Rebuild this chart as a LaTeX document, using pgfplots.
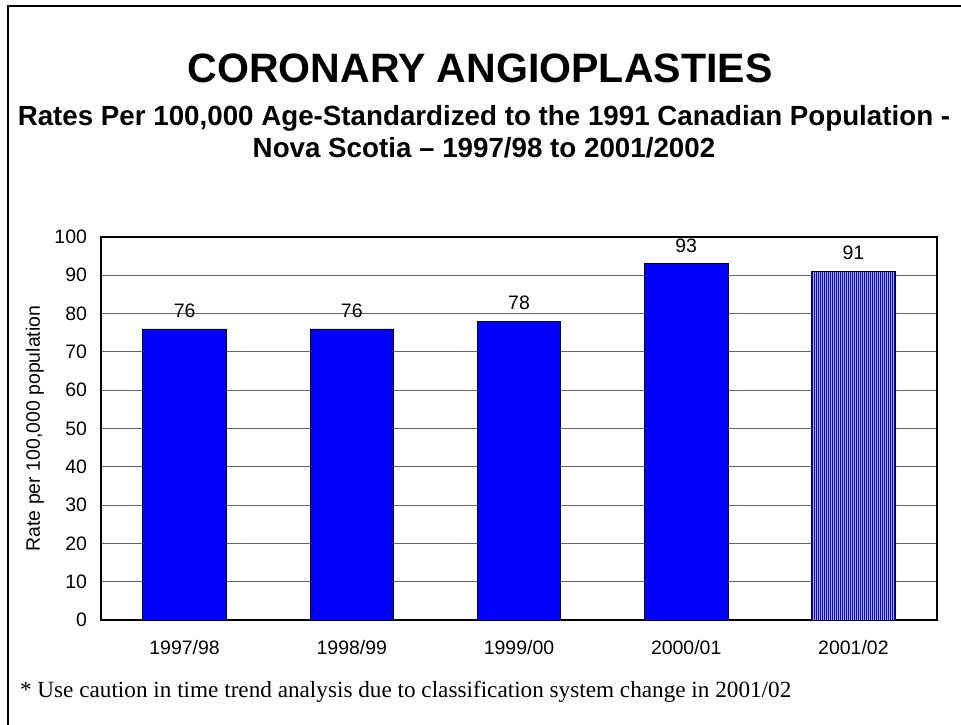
\documentclass[border=0pt]{standalone}
\usepackage{pgfplots}
\pgfplotsset{compat=1.18}
\usepackage{fontspec}
\setmainfont{Liberation Sans}
\newfontfamily\timesfont{Liberation Serif}
\usetikzlibrary{patterns.meta}
\definecolor{barblue}{RGB}{0,0,255}
\begin{document}
\begin{tikzpicture}
\useasboundingbox (0,0) rectangle (720.75pt,543.75pt);
% frame (left and top edges visible)
\draw[line width=1.4pt] (6.3pt,0) -- (6.3pt,539.25pt) -- (720.75pt,539.25pt);
% titles
\node[font=\fontsize{30.8}{34}\selectfont\bfseries] at (360pt,492.75pt) {CORONARY ANGIOPLASTIES};
\node[font=\fontsize{20.8}{24}\selectfont\bfseries] at (363pt,455.25pt) {Rates Per 100,000 Age-Standardized to the 1991 Canadian Population -};
\node[font=\fontsize{20.8}{24}\selectfont\bfseries] at (363pt,432.75pt) {Nova Scotia – 1997/98 to 2001/2002};
% footnote
\node[anchor=west,font=\fontsize{17.4}{20}\selectfont\timesfont] at (11.5pt,24.75pt) {* Use caution in time trend analysis due to classification system change in 2001/02};
\begin{axis}[
  at={(75.75pt,78.75pt)}, anchor=south west,
  scale only axis, width=627pt, height=287.25pt,
  ymin=0, ymax=100, ytick distance=10,
  xmin=-0.5, xmax=4.5,
  xtick={0,1,2,3,4},
  xticklabels={1997/98,1998/99,1999/00,2000/01,2001/02},
  major tick length=0pt,
  ymajorgrids, grid style={gray!80!black, line width=0.6pt},
  axis line style={black, line width=0.9pt},
  /pgf/number format/assume math mode=true,
  tick label style={font=\fontsize{14.6}{16}\selectfont},
  yticklabel style={xshift=-7pt},
  xticklabel style={yshift=-12pt},
  ylabel={Rate per 100,000 population},
  every axis y label/.style={at={(axis description cs:-0.079,0.5)}, anchor=center, rotate=90, font=\fontsize{14.6}{16}\selectfont},
  ybar, bar width=0.5, bar shift=0pt,
  nodes near coords,
  every node near coord/.append style={font=\fontsize{14.6}{16}\selectfont, yshift=5pt},
]
\addplot[fill=barblue, draw=black, line width=0.6pt] coordinates {(0,76) (1,76) (2,78) (3,93)};
\addplot[fill=barblue!30!white, draw=black, line width=0.6pt,
  postaction={pattern={Lines[angle=90,distance=1.5pt,line width=0.55pt]}, pattern color=barblue}]
  coordinates {(4,91)};
\end{axis}
\end{tikzpicture}
\end{document}
